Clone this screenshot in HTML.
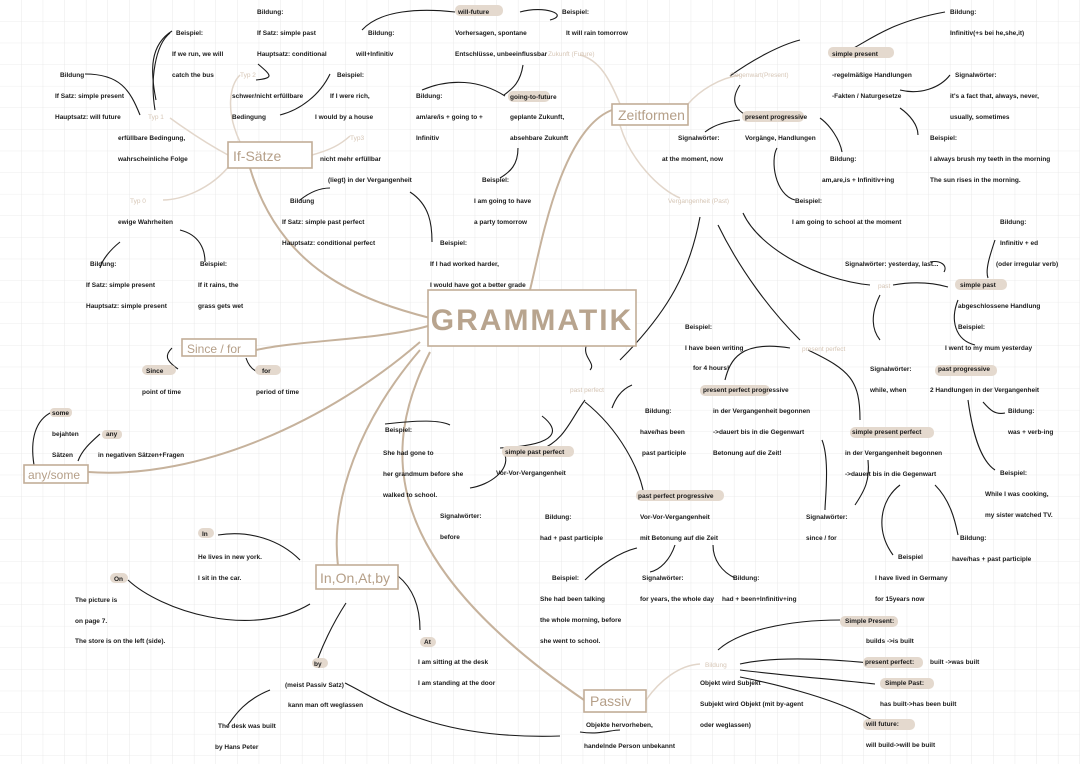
<!DOCTYPE html><html><head><meta charset="utf-8"><style>
html,body{margin:0;padding:0;background:#fff}
svg{display:block}
text{font-family:"Liberation Sans",sans-serif;font-size:6.5px;fill:#1a1a1a;font-weight:bold}
.l{fill:#d6c6b6;font-weight:normal}
.b{font-size:14px;fill:#b59f88;font-weight:normal}
.k{fill:none;stroke:#1a1a1a;stroke-width:1.1}
.t{fill:none;stroke:#c6b29c;stroke-width:2}
.t2{fill:none;stroke:#e2d6ca;stroke-width:1.5}
.p{fill:#e4d9ce}
.bx{fill:#fff;stroke:#c2ad98;stroke-width:1.6}
</style></head><body>
<svg width="1080" height="764" viewBox="0 0 1080 764">
<defs><pattern id="g" width="21.6" height="21.6" patternUnits="userSpaceOnUse"><path d="M21.6 0V21.6H0" fill="none" stroke="#e6e6e6" stroke-width="0.8"/></pattern></defs>
<rect width="1080" height="764" fill="url(#g)"/>
<path class="t" d="M430 318 C360 300 280 270 250 168"/>
<path class="t" d="M612 110 C560 130 540 250 530 290"/>
<path class="t" d="M428 326 C380 340 300 340 256 350"/>
<path class="t" d="M420 342 C330 420 200 480 88 472"/>
<path class="t" d="M420 350 C360 420 330 500 338 566"/>
<path class="t" d="M430 352 C380 450 380 560 584 700"/>
<path class="t2" d="M228 155 C200 140 180 125 170 118"/><path class="t2" d="M230 165 C210 190 180 200 163 200"/>
<path class="t2" d="M240 142 C225 110 230 85 240 75"/><path class="t2" d="M312 155 C330 150 340 145 350 136"/>
<path class="t2" d="M620 104 C610 80 600 60 580 55"/><path class="t2" d="M688 104 C700 90 720 78 740 75"/>
<path class="t2" d="M620 125 C630 160 660 190 680 198"/><path class="t2" d="M646 700 C660 680 680 665 700 664"/>
<g class="k">
<path d="M85 74 C120 74 130 90 140 115"/><path d="M155 110 C150 80 155 45 170 33"/>
<path d="M258 64 C272 76 274 78 256 80"/><path d="M280 115 C300 110 320 95 330 74"/>
<path d="M362 30 C380 10 420 8 455 12"/><path d="M422 90 C450 78 480 80 505 96"/>
<path d="M520 12 C545 5 570 15 550 20"/><path d="M523 65 C520 85 510 90 504 95"/>
<path d="M300 200 C310 192 320 188 330 188"/><path d="M410 192 C430 205 432 225 432 242"/>
<path d="M518 148 C518 165 510 172 500 178"/>
<path d="M120 242 C110 250 102 260 100 268"/><path d="M180 230 C200 235 205 250 205 262"/>
<path d="M172 31 C150 45 150 70 156 100"/>
<path d="M730 76 C752 60 780 45 800 40"/><path d="M850 50 C870 40 890 22 945 12"/>
<path d="M740 85 C730 100 735 110 748 116"/><path d="M740 120 C720 122 710 128 705 132"/>
<path d="M820 118 C830 125 840 140 842 152"/><path d="M777 148 C770 160 775 195 795 200"/>
<path d="M900 90 C920 95 940 88 950 75"/><path d="M900 108 C910 115 918 125 918 135"/>
<path d="M743 213 C760 250 820 280 870 285"/><path d="M893 285 C910 282 930 282 948 287"/>
<path d="M944 272 C948 265 940 260 930 262"/><path d="M995 240 C990 255 985 270 988 278"/>
<path d="M700 217 C690 270 670 310 620 360"/><path d="M718 225 C740 270 770 310 800 340"/>
<path d="M880 295 C870 315 872 330 880 340"/><path d="M958 300 C950 320 955 340 975 345"/>
<path d="M617 320 C560 350 600 360 590 370"/><path d="M790 348 C740 340 730 360 725 380"/>
<path d="M632 385 C620 390 615 400 612 408"/><path d="M808 350 C850 370 860 380 860 420"/>
<path d="M585 400 C570 420 565 440 540 450"/><path d="M585 402 C620 430 640 470 644 495"/>
<path d="M822 440 C830 460 825 500 825 510"/><path d="M855 505 C865 490 870 480 868 460"/>
<path d="M900 485 C880 500 875 530 893 555"/><path d="M935 485 C950 500 955 520 958 535"/>
<path d="M968 400 C972 430 980 460 995 470"/><path d="M983 402 C990 410 995 415 1005 413"/>
<path d="M637 548 C620 552 600 565 585 580"/><path d="M675 545 C670 560 660 570 650 572"/>
<path d="M713 545 C713 560 722 572 735 578"/>
<path d="M542 416 C560 430 560 445 500 448"/><path d="M505 455 C510 470 490 485 470 488"/>
<path d="M385 424 C420 420 440 420 450 425"/>
<path d="M218 535 C250 530 280 540 300 560"/><path d="M128 580 C160 610 250 640 310 604"/>
<path d="M398 576 C415 590 420 610 420 630"/><path d="M346 603 C335 620 325 640 318 658"/>
<path d="M270 690 C245 700 235 715 228 725"/><path d="M345 683 C380 700 430 740 560 736"/>
<path d="M580 732 C600 735 610 730 620 730"/>
<path d="M718 650 C740 630 790 620 840 620"/><path d="M740 664 C780 655 840 660 870 663"/>
<path d="M740 670 C780 675 840 680 875 684"/><path d="M740 677 C780 685 840 700 872 720"/>
<path d="M178 369 C165 360 165 355 172 348"/><path d="M246 358 C250 370 258 374 268 372"/>
<path d="M34 465 C30 440 35 420 52 412"/><path d="M78 461 C82 450 90 443 100 434"/>
</g>
<g class="p">
<rect x="455" y="5" width="48" height="11" rx="5"/><rect x="508" y="91" width="42" height="11" rx="5"/>
<rect x="828" y="47" width="66" height="11" rx="5"/><rect x="742" y="111" width="62" height="11" rx="5"/>
<rect x="955" y="279" width="52" height="11" rx="5"/><rect x="935" y="365" width="62" height="11" rx="5"/>
<rect x="700" y="385" width="70" height="11" rx="5"/><rect x="850" y="427" width="84" height="11" rx="5"/>
<rect x="636" y="490" width="88" height="11" rx="5"/><rect x="502" y="446" width="72" height="11" rx="5"/>
<rect x="840" y="616" width="58" height="11" rx="5"/><rect x="863" y="657" width="60" height="11" rx="5"/>
<rect x="880" y="678" width="54" height="11" rx="5"/><rect x="863" y="719" width="52" height="11" rx="5"/>
<rect x="142" y="365" width="34" height="10" rx="5"/><rect x="255" y="365" width="26" height="10" rx="5"/>
<rect x="50" y="408" width="22" height="9" rx="4"/><rect x="102" y="430" width="20" height="9" rx="4"/>
<rect x="198" y="528" width="16" height="10" rx="5"/><rect x="110" y="573" width="18" height="10" rx="5"/>
<rect x="312" y="658" width="16" height="10" rx="5"/><rect x="420" y="637" width="16" height="10" rx="5"/>
</g>
<rect class="bx" x="428" y="290" width="208" height="56"/>
<text x="532" y="330" text-anchor="middle" style="font-size:30px;font-weight:bold;fill:#b8a48e;letter-spacing:2px">GRAMMATIK</text>
<rect class="bx" x="228" y="142" width="84" height="26"/><text class="b" x="233" y="161">If-Sätze</text>
<rect class="bx" x="612" y="104" width="76" height="21"/><text class="b" x="618" y="120">Zeitformen</text>
<rect class="bx" x="182" y="339" width="74" height="17"/><text class="b" x="187" y="353" style="font-size:12px">Since / for</text>
<rect class="bx" x="24" y="465" width="64" height="18"/><text class="b" x="28" y="479" style="font-size:12px">any/some</text>
<rect class="bx" x="316" y="565" width="82" height="24"/><text class="b" x="320" y="583">In,On,At,by</text>
<rect class="bx" x="584" y="690" width="62" height="22"/><text class="b" x="590" y="706">Passiv</text>
<text class="l" x="148" y="119">Typ 1</text><text class="l" x="240" y="77">Typ 2</text><text class="l" x="350" y="140">Typ3</text><text class="l" x="130" y="203">Typ 0</text>
<text class="l" x="548" y="56">Zukunft (Future)</text><text class="l" x="730" y="77">Gegenwart(Present)</text>
<text class="l" x="668" y="203">Vergangenheit (Past)</text><text class="l" x="878" y="288">past</text>
<text class="l" x="802" y="351">present perfect</text><text class="l" x="570" y="392">past perfect</text><text class="l" x="705" y="667">Bildung</text>
<text x="257" y="14">Bildung:</text><text x="257" y="35">If Satz: simple past</text><text x="257" y="56">Hauptsatz: conditional</text>
<text x="176" y="35">Beispiel:</text><text x="172" y="56">If we run, we will</text><text x="172" y="77">catch the bus</text>
<text x="60" y="77">Bildung</text><text x="55" y="98">If Satz: simple present</text><text x="55" y="119">Hauptsatz: will future</text>
<text x="118" y="140">erfüllbare Bedingung,</text><text x="118" y="161">wahrscheinliche Folge</text>
<text x="232" y="98">schwer/nicht erfüllbare</text><text x="232" y="119">Bedingung</text>
<text x="368" y="35">Bildung:</text><text x="356" y="56">will+Infinitiv</text>
<text x="337" y="77">Beispiel:</text><text x="330" y="98">If I were rich,</text><text x="315" y="119">I would by a house</text>
<text x="416" y="98">Bildung:</text><text x="416" y="119">am/are/is + going to +</text><text x="416" y="140">Infinitiv</text>
<text x="458" y="14">will-future</text><text x="455" y="35">Vorhersagen, spontane</text><text x="455" y="56">Entschlüsse, unbeeinflussbar</text>
<text x="562" y="14">Beispiel:</text><text x="566" y="35">It will rain tomorrow</text>
<text x="510" y="99">going-to-future</text><text x="510" y="119">geplante Zukunft,</text><text x="510" y="140">absehbare Zukunft</text>
<text x="320" y="161">nicht mehr erfüllbar</text><text x="328" y="182">(liegt) in der Vergangenheit</text>
<text x="290" y="203">Bildung</text><text x="282" y="224">If Satz: simple past perfect</text><text x="282" y="245">Hauptsatz: conditional perfect</text>
<text x="482" y="182">Beispiel:</text><text x="474" y="203">I am going to have</text><text x="474" y="224">a party tomorrow</text>
<text x="440" y="245">Beispiel:</text><text x="430" y="266">If I had worked harder,</text><text x="430" y="287">I would have got a better grade</text>
<text x="118" y="224">ewige Wahrheiten</text>
<text x="90" y="266">Bildung:</text><text x="86" y="287">If Satz: simple present</text><text x="86" y="308">Hauptsatz: simple present</text>
<text x="200" y="266">Beispiel:</text><text x="198" y="287">If it rains, the</text><text x="198" y="308">grass gets wet</text>
<text x="950" y="14">Bildung:</text><text x="950" y="35">Infinitiv(+s bei he,she,it)</text>
<text x="832" y="56">simple present</text><text x="832" y="77">-regelmäßige Handlungen</text><text x="832" y="98">-Fakten / Naturgesetze</text>
<text x="955" y="77">Signalwörter:</text><text x="950" y="98">it's a fact that, always, never,</text><text x="950" y="119">usually, sometimes</text>
<text x="930" y="140">Beispiel:</text><text x="930" y="161">I always brush my teeth in the morning</text><text x="930" y="182">The sun rises in the morning.</text>
<text x="745" y="119">present progressive</text><text x="678" y="140">Signalwörter:</text><text x="662" y="161">at the moment, now</text>
<text x="745" y="140">Vorgänge, Handlungen</text><text x="830" y="161">Bildung:</text><text x="822" y="182">am,are,is + Infinitiv+ing</text>
<text x="795" y="203">Beispiel:</text><text x="792" y="224">I am going to school at the moment</text>
<text x="1000" y="224">Bildung:</text><text x="1000" y="245">Infinitiv + ed</text><text x="996" y="266">(oder irregular verb)</text>
<text x="845" y="266">Signalwörter: yesterday, last...</text>
<text x="960" y="287">simple past</text><text x="958" y="308">abgeschlossene Handlung</text>
<text x="958" y="329">Beispiel:</text><text x="945" y="350">I went to my mum yesterday</text>
<text x="870" y="371">Signalwörter:</text><text x="870" y="392">while, when</text>
<text x="938" y="371">past progressive</text><text x="930" y="392">2 Handlungen in der Vergangenheit</text>
<text x="1008" y="413">Bildung:</text><text x="1008" y="434">was + verb-ing</text>
<text x="1000" y="475">Beispiel:</text><text x="985" y="496">While I was cooking,</text><text x="985" y="517">my sister watched TV.</text>
<text x="685" y="329">Beispiel:</text><text x="685" y="350">I have been writing</text><text x="693" y="370">for 4 hours!</text>
<text x="703" y="392">present perfect progressive</text><text x="645" y="413">Bildung:</text>
<text x="640" y="434">have/has been</text><text x="642" y="455">past participle</text>
<text x="713" y="413">in der Vergangenheit begonnen</text><text x="713" y="434">-&gt;dauert bis in die Gegenwart</text><text x="713" y="455">Betonung auf die Zeit!</text>
<text x="852" y="434">simple present perfect</text><text x="845" y="455">in der Vergangenheit begonnen</text><text x="845" y="476">-&gt;dauert bis in die Gegenwart</text>
<text x="806" y="519">Signalwörter:</text><text x="806" y="540">since / for</text>
<text x="960" y="540">Bildung:</text><text x="952" y="561">have/has + past participle</text>
<text x="898" y="559">Beispiel</text><text x="875" y="580">I have lived in Germany</text><text x="875" y="601">for 15years now</text>
<text x="638" y="498">past perfect progressive</text><text x="640" y="519">Vor-Vor-Vergangenheit</text><text x="640" y="540">mit Betonung auf die Zeit</text>
<text x="642" y="580">Signalwörter:</text><text x="640" y="601">for years, the whole day</text>
<text x="733" y="580">Bildung:</text><text x="722" y="601">had + been+Infinitiv+ing</text>
<text x="505" y="454">simple past perfect</text><text x="496" y="475">Vor-Vor-Vergangenheit</text>
<text x="545" y="519">Bildung:</text><text x="540" y="540">had + past participle</text>
<text x="552" y="580">Beispiel:</text><text x="540" y="601">She had been talking</text><text x="540" y="622">the whole morning, before</text><text x="540" y="643">she went to school.</text>
<text x="385" y="432">Beispiel:</text><text x="383" y="455">She had gone to</text><text x="383" y="476">her grandmum before she</text><text x="383" y="497">walked to school.</text>
<text x="440" y="518">Signalwörter:</text><text x="440" y="539">before</text>
<text x="845" y="623">Simple Present:</text><text x="866" y="643">builds -&gt;is built</text>
<text x="865" y="664">present perfect:</text><text x="930" y="664">built -&gt;was built</text>
<text x="885" y="685">Simple Past:</text><text x="880" y="706">has built-&gt;has been built</text>
<text x="866" y="726">will future:</text><text x="866" y="747">will build-&gt;will be built</text>
<text x="700" y="685">Objekt wird Subjekt</text><text x="700" y="706">Subjekt wird Objekt (mit by-agent</text><text x="700" y="727">oder weglassen)</text>
<text x="586" y="727">Objekte hervorheben,</text><text x="584" y="748">handelnde Person unbekannt</text>
<text x="146" y="373">Since</text><text x="142" y="394">point of time</text><text x="262" y="373">for</text><text x="256" y="394">period of time</text>
<text x="52" y="415">some</text><text x="52" y="436">bejahten</text><text x="52" y="457">Sätzen</text><text x="106" y="436">any</text><text x="98" y="457">in negativen Sätzen+Fragen</text>
<text x="202" y="536">In</text><text x="198" y="559">He lives in new york.</text><text x="198" y="580">I sit in the car.</text>
<text x="114" y="581">On</text><text x="75" y="602">The picture is</text><text x="75" y="623">on page 7.</text><text x="75" y="643">The store is on the left (side).</text>
<text x="424" y="644">At</text><text x="418" y="664">I am sitting at the desk</text><text x="418" y="685">I am standing at the door</text>
<text x="314" y="666">by</text><text x="285" y="687">(meist Passiv Satz)</text><text x="288" y="707">kann man oft weglassen</text>
<text x="218" y="728">The desk was built</text><text x="215" y="749">by Hans Peter</text>
</svg>
</body></html>
